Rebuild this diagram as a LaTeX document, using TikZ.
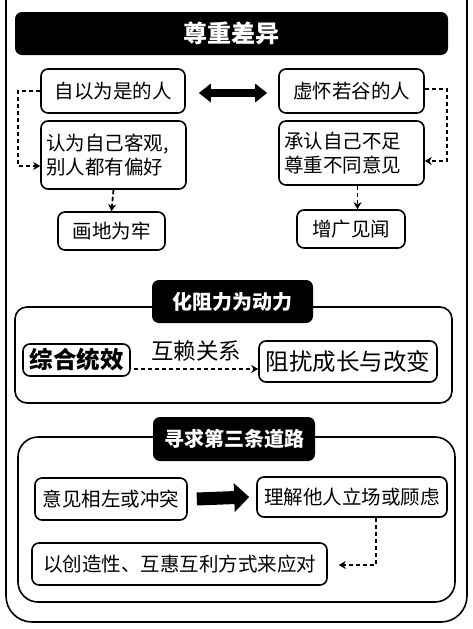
\documentclass[tikz,border=0pt]{standalone}
\usepackage{fontspec}
\setmainfont{Noto Sans CJK SC}
\usetikzlibrary{arrows.meta}
\tikzset{
  box/.style={draw, line width=1.6pt, rounded corners=7pt, inner sep=0pt, align=center, font=\fontsize{19.5}{24}\selectfont},
  titlebox/.style={fill=black, rounded corners=7pt, inner sep=0pt, text=white, font=\bfseries\fontsize{20}{24}\selectfont},
  frame/.style={draw, line width=1.6pt, rounded corners=14pt},
  dashline/.style={line width=1.8pt, dash pattern=on 4.5pt off 2.5pt, -{Stealth[length=7pt,width=8pt]}},
}
\begin{document}
\begin{tikzpicture}[x=1pt,y=-1pt]
\useasboundingbox (0,0) rectangle (473,629);
\clip (0,0) rectangle (473,629);
\fill[white] (0,0) rectangle (473,629);
% outer frame
\draw[line width=1.6pt, rounded corners=26pt] (6,-40) rectangle (467,622);
% title
\node[titlebox, minimum width=433pt, minimum height=43pt, font=\bfseries\fontsize{24}{28}\selectfont] (t1) at (231.5,33.5) {尊重差异};
% top section
\node[box, minimum width=144pt, minimum height=44pt] (a1) at (113,91) {自以为是的人};
\node[box, minimum width=145pt, minimum height=68pt, text width=135pt, align=left] (a2) at (113.5,155) {认为自己客观,\\别人都有偏好};
\node[box, minimum width=107pt, minimum height=38pt] (a3) at (111.5,231) {画地为牢};
\node[box, minimum width=145pt, minimum height=44pt] (b1) at (351.5,91) {虚怀若谷的人};
\node[box, minimum width=145pt, minimum height=64pt, text width=135pt, align=left] (b2) at (351.5,153) {承认自己不足\\尊重不同意见};
\node[box, minimum width=108pt, minimum height=38pt] (b3) at (351,229) {增广见闻};
\draw[line width=8pt, {Triangle[length=12pt,width=18pt]}-{Triangle[length=12pt,width=18pt]}]
  ([xshift=13pt,yshift=-2pt]a1.east) -- ([xshift=-11pt,yshift=-2pt]b1.west);
\coordinate (lc1) at (18,91);
\coordinate (lc2) at (18,166);
\draw[dashline] (a1.west) -- (lc1) -- (lc2) -- (lc2 -| a2.west);
\coordinate (rc1) at (447,89);
\coordinate (rc2) at (447,161);
\draw[dashline] (b1.east |- rc1) -- (rc1) -- (rc2) -- (rc2 -| b2.east);
\draw[dashline] (a2.south) -- (a3.north);
\draw[dashline] ([xshift=6pt]b2.south) -- ([xshift=6pt]b2.south |- b3.north);
% section 2
\draw[frame, rounded corners=12pt] (15,307) rectangle (452,403);
\node[titlebox, minimum width=161pt, minimum height=43pt] (t2) at (232.5,301.5) {化阻力为动力};
\node[box, minimum width=107pt, minimum height=32pt, font=\bfseries\fontsize{23.5}{26}\selectfont] (c1) at (76.5,360) {综合统效};
\node[box, minimum width=178pt, minimum height=41pt, font=\fontsize{23.5}{26}\selectfont] (c2) at (348,361.5) {阻扰成长与改变};
\draw[dashline] ([xshift=3pt,yshift=-9pt]c1.east) -- node[above=3pt, font=\fontsize{22.5}{26}\selectfont] (lab) {互赖关系} ([yshift=-9pt]c1.east -| c2.west);
% section 3
\draw[frame, rounded corners=20pt] (18,437) rectangle (455,602);
\node[titlebox, minimum width=162pt, minimum height=44pt] (t3) at (234,439) {寻求第三条道路};
\node[box, minimum width=152pt, minimum height=42pt] (d1) at (111,499) {意见相左或冲突};
\node[box, minimum width=190pt, minimum height=40pt] (d2) at (352,497) {理解他人立场或顾虑};
\node[box, minimum width=295pt, minimum height=42pt] (d3) at (179.5,564) {以创造性、互惠互利方式来应对};
\draw[line width=13pt, -{Triangle[length=15pt,width=28pt]}] ([xshift=9pt]d1.east) -- ([xshift=-7pt]d2.west);
\coordinate (dc) at (376,565);
\draw[dashline] (d2.south -| dc) -- (dc) -- ([xshift=11pt]dc -| d3.east);
\end{tikzpicture}
\end{document}
